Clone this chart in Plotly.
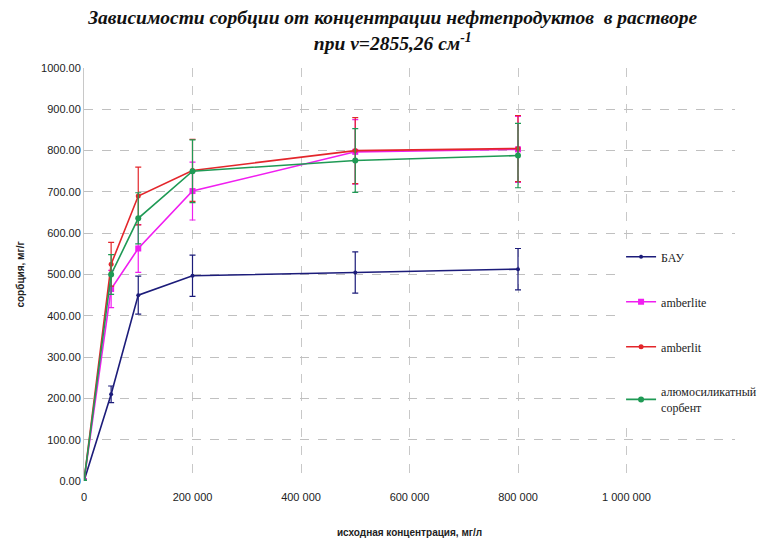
import plotly.graph_objects as go

x_conc = [0, 50000, 100000, 200000, 500000, 800000]

series_names = ["БАУ", "amberlite", "amberlit", "алюмосиликатный<br>сорбент"]
bau = [0, 210, 450, 497, 505, 513]
bau_err = [0, 20, 46, 50, 50, 50]
amberlite = [0, 465, 563, 702, 797, 803]
amberlite_err = [0, 45, 58, 70, 78, 80]
amberlit = [0, 525, 690, 752, 800, 805]
amberlit_err = [0, 53, 70, 75, 80, 80]
alumo = [0, 500, 636, 750, 776, 788]
alumo_err = [0, 48, 62, 76, 77, 78]

colors = ["#1c1c7a", "#f01ef0", "#e3262b", "#1f9a55"]
symbols = ["circle", "square", "circle", "circle"]
msizes = [4, 6, 5, 6]

x_ticks = [0, 200000, 400000, 600000, 800000, 1000000]
x_tick_labels = ["0", "200 000", "400 000", "600 000", "800 000", "1 000 000"]
y_ticks = [0, 100, 200, 300, 400, 500, 600, 700, 800, 900, 1000]
y_tick_labels = [f"{v:.2f}" for v in y_ticks]

fig = go.Figure()
for i, (ys, es) in enumerate([(bau, bau_err), (amberlite, amberlite_err),
                               (amberlit, amberlit_err), (alumo, alumo_err)]):
    fig.add_trace(go.Scatter(
        x=x_conc, y=ys, name=series_names[i], mode="lines+markers",
        line=dict(color=colors[i], width=1.6),
        marker=dict(color=colors[i], symbol=symbols[i], size=msizes[i]),
        error_y=dict(type="data", array=es, visible=True, color=colors[i],
                     thickness=1.2, width=3),
        legendgroup=f"g{i}",
    ))

fig.update_layout(
    width=770, height=541,
    margin=dict(l=84, r=35, t=68, b=60, autoexpand=False),
    paper_bgcolor="white", plot_bgcolor="white",
    title=dict(
        text="<b><i>Зависимости сорбции от концентрации нефтепродуктов  в растворе<br>при ν=2855,26 см<sup>-1</sup></i></b>",
        x=0.51, xanchor="center", y=0.955, yanchor="top",
        font=dict(family="Liberation Serif", size=19.5, color="#111"),
    ),
    xaxis=dict(
        range=[0, 1200000], tickmode="array", tickvals=x_ticks, ticktext=x_tick_labels,
        showgrid=True, gridcolor="#c8c8c8", griddash="dash", gridwidth=1,
        zeroline=False, showline=False, ticks="", ticklabelstandoff=8,
        automargin=False,
        tickfont=dict(family="Liberation Sans", size=11, color="#222"),
        title=dict(text="<b>исходная концентрация, мг/л</b>", standoff=26,
                   font=dict(family="Liberation Sans", size=10, color="#222")),
    ),
    yaxis=dict(
        range=[0, 1000], tickmode="array", tickvals=y_ticks, ticktext=y_tick_labels,
        showgrid=True, gridcolor="#c0c0c0", griddash="dash", gridwidth=1,
        zeroline=False, showline=True, linecolor="#c8c8c8", linewidth=1, ticks="",
        automargin=False,
        tickfont=dict(family="Liberation Sans", size=11, color="#222"),
        title=dict(text="<b>сорбция, мг/г</b>", standoff=14,
                   font=dict(family="Liberation Sans", size=10, color="#222")),
    ),
    legend=dict(
        x=0.825, y=0.36, xanchor="left", yanchor="middle",
        bgcolor="rgba(255,255,255,1)", tracegroupgap=26,
        font=dict(family="Liberation Serif", size=12, color="#222"),
        itemwidth=30,
    ),
    showlegend=True,
)

fig.write_html("out.html")
